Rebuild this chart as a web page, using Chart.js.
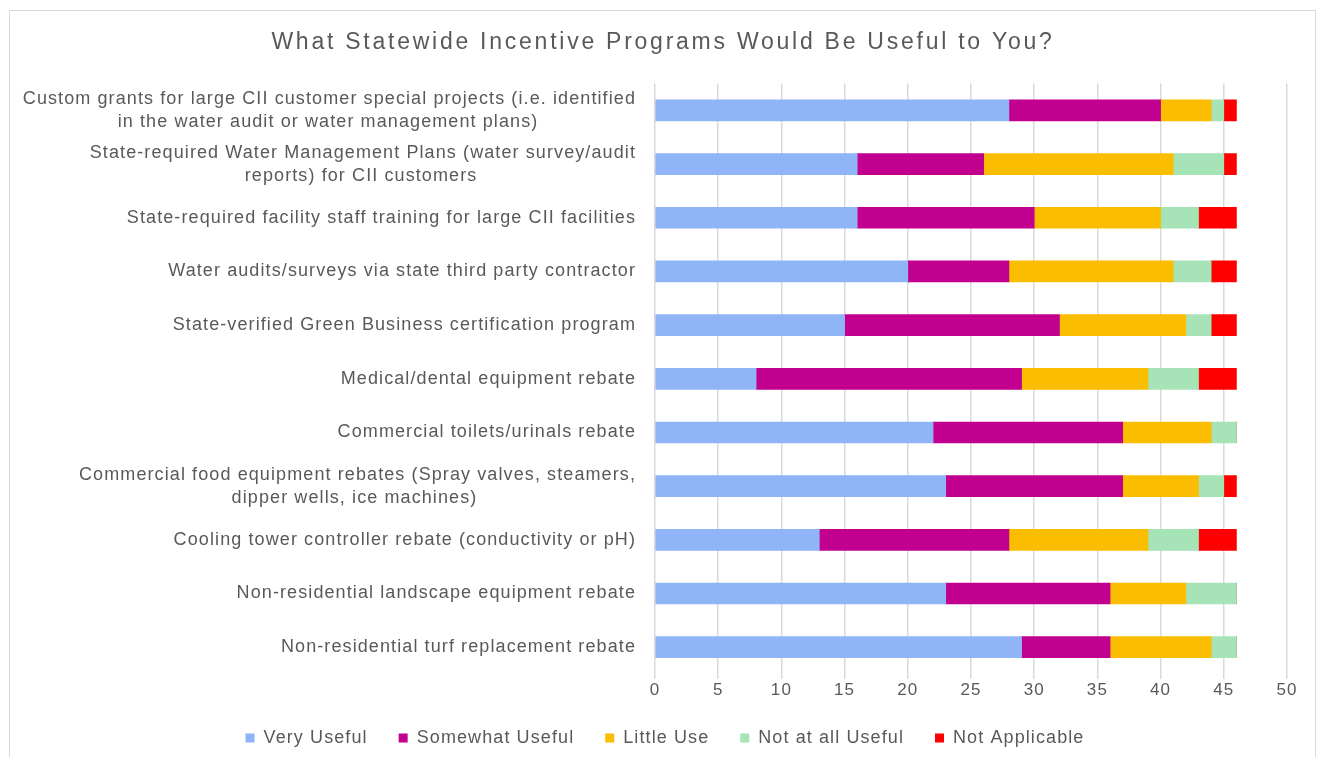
<!DOCTYPE html>
<html>
<head>
<meta charset="utf-8">
<script src="https://cdn.jsdelivr.net/npm/chart.js@4.4.1/dist/chart.umd.min.js"></script>
<style>
    html, body { margin: 0; padding: 0; background: #fff; }
    #wrap { position: relative; width: 1318px; height: 757px; overflow: hidden; }
    #frame { position: absolute; left: 9px; top: 10px; width: 1307px; height: 760px; border: 1px solid #d9d9d9; box-sizing: border-box; }
    #chart { position: absolute; left: 0; top: 0; }
</style>
</head>
<body>
<div id="wrap">
    <div id="frame"></div>
    <canvas id="chart" width="1318" height="757"></canvas>
</div>
<script>
// Survey responses per incentive program (number of respondents)
const programs = [
    ['Custom grants for large CII customer special projects (i.e. identified', 'in the water audit or water management plans)'],
    ['State-required Water Management Plans (water survey/audit', 'reports) for CII customers'],
    'State-required facility staff training for large CII facilities',
    'Water audits/surveys via state third party contractor',
    'State-verified Green Business certification program',
    'Medical/dental equipment rebate',
    'Commercial toilets/urinals rebate',
    ['Commercial food equipment rebates (Spray valves, steamers,', 'dipper wells, ice machines)'],
    'Cooling tower controller rebate (conductivity or pH)',
    'Non-residential landscape equipment rebate',
    'Non-residential turf replacement rebate'
];

const veryUseful      = [28, 16, 16, 20, 15,  8, 22, 23, 13, 23, 29];
const somewhatUseful  = [12, 10, 14,  8, 17, 21, 15, 14, 15, 13,  7];
const littleUse       = [ 4, 15, 10, 13, 10, 10,  7,  6, 11,  6,  8];
const notAtAllUseful  = [ 1,  4,  3,  3,  2,  4,  2,  2,  4,  4,  2];
const notApplicable   = [ 1,  1,  3,  2,  2,  3,  0,  1,  3,  0,  0];

const xTicks = [0, 5, 10, 15, 20, 25, 30, 35, 40, 45, 50];

const textColor = '#595959';
const fontFamily = '"Liberation Sans", Arial, sans-serif';
const labelSize = 18;
const spacing = '1.1px';
const titleSpacing = '2.75px';

// Pad the shorter lines of a wrapped label so each line sits centred under the longest one
function centreLines(label) {
    if (!Array.isArray(label)) return label;
    const ctx = document.createElement('canvas').getContext('2d');
    ctx.font = labelSize + 'px ' + fontFamily;
    ctx.letterSpacing = spacing;
    const widths = label.map(l => ctx.measureText(l).width);
    const widest = Math.max(...widths);
    const nbsp = ctx.measureText('\u00a0').width;
    return label.map((l, i) => l + '\u00a0'.repeat(Math.round((widest - widths[i]) / 2 / nbsp)));
}

// Wrap a layout box's draw so it renders shifted sideways (and with its own letter spacing)
function shiftBox(chart, box, dx, letterSpacing) {
    if (!box || box._shifted) return;
    const draw = box.draw.bind(box);
    box.draw = function (...args) {
        chart.ctx.save();
        if (letterSpacing) chart.ctx.letterSpacing = letterSpacing;
        chart.ctx.translate(dx, 0);
        draw(...args);
        chart.ctx.restore();
    };
    box._shifted = true;
}

// Canvas letter spacing for all chart text; title and legend are centred on the whole frame
const textLayoutPlugin = {
    id: 'textLayout',
    beforeLayout(chart) { chart.ctx.letterSpacing = spacing; },
    beforeDraw(chart) {
        chart.ctx.letterSpacing = spacing;
        shiftBox(chart, chart.titleBlock, 14.5, titleSpacing);
        shiftBox(chart, chart.legend, 16.5);
    }
};

function series(label, data, color) {
    return {
        label: label,
        data: data,
        backgroundColor: color,
        borderWidth: 0,
        barThickness: 21
    };
}

new Chart(document.getElementById('chart').getContext('2d'), {
    type: 'bar',
    data: {
        labels: programs.map(centreLines),
        datasets: [
            series('Very Useful', veryUseful, '#8fb4f8'),
            series('Somewhat Useful', somewhatUseful, '#c2008f'),
            series('Little Use', littleUse, '#fabd00'),
            series('Not at all Useful', notAtAllUseful, '#a6e3b7'),
            series('Not Applicable', notApplicable, '#ff0000')
        ]
    },
    plugins: [textLayoutPlugin],
    options: {
        indexAxis: 'y',
        responsive: false,
        animation: false,
        layout: { padding: { left: 10, right: 31, top: 29, bottom: 0 } },
        plugins: {
            title: {
                display: true,
                text: 'What Statewide Incentive Programs Would Be Useful to You?',
                color: textColor,
                font: { family: fontFamily, size: 23, weight: 'normal' },
                padding: { top: 0, bottom: 27 }
            },
            legend: {
                position: 'bottom',
                labels: {
                    color: textColor,
                    font: { family: fontFamily, size: 18 },
                    boxWidth: 9,
                    boxHeight: 9,
                    padding: 31
                }
            },
            tooltip: { enabled: false }
        },
        scales: {
            x: {
                stacked: true,
                min: 0,
                max: 50,
                afterBuildTicks: (scale) => {
                    scale.ticks = xTicks.map(v => ({ value: v }));
                },
                afterFit: (scale) => { scale.height = 24; },
                grid: { color: '#d9d9d9', lineWidth: 1.5, tickLength: 5 },
                border: { display: false },
                ticks: {
                    color: textColor,
                    font: { family: fontFamily, size: 17 },
                    padding: 1
                }
            },
            y: {
                stacked: true,
                afterFit: (scale) => { scale.width = 645; },
                grid: { display: false },
                border: { display: false },
                ticks: {
                    color: textColor,
                    font: { family: fontFamily, size: labelSize, lineHeight: 1.28 },
                    padding: 11
                }
            }
        }
    }
});
</script>
</body>
</html>
